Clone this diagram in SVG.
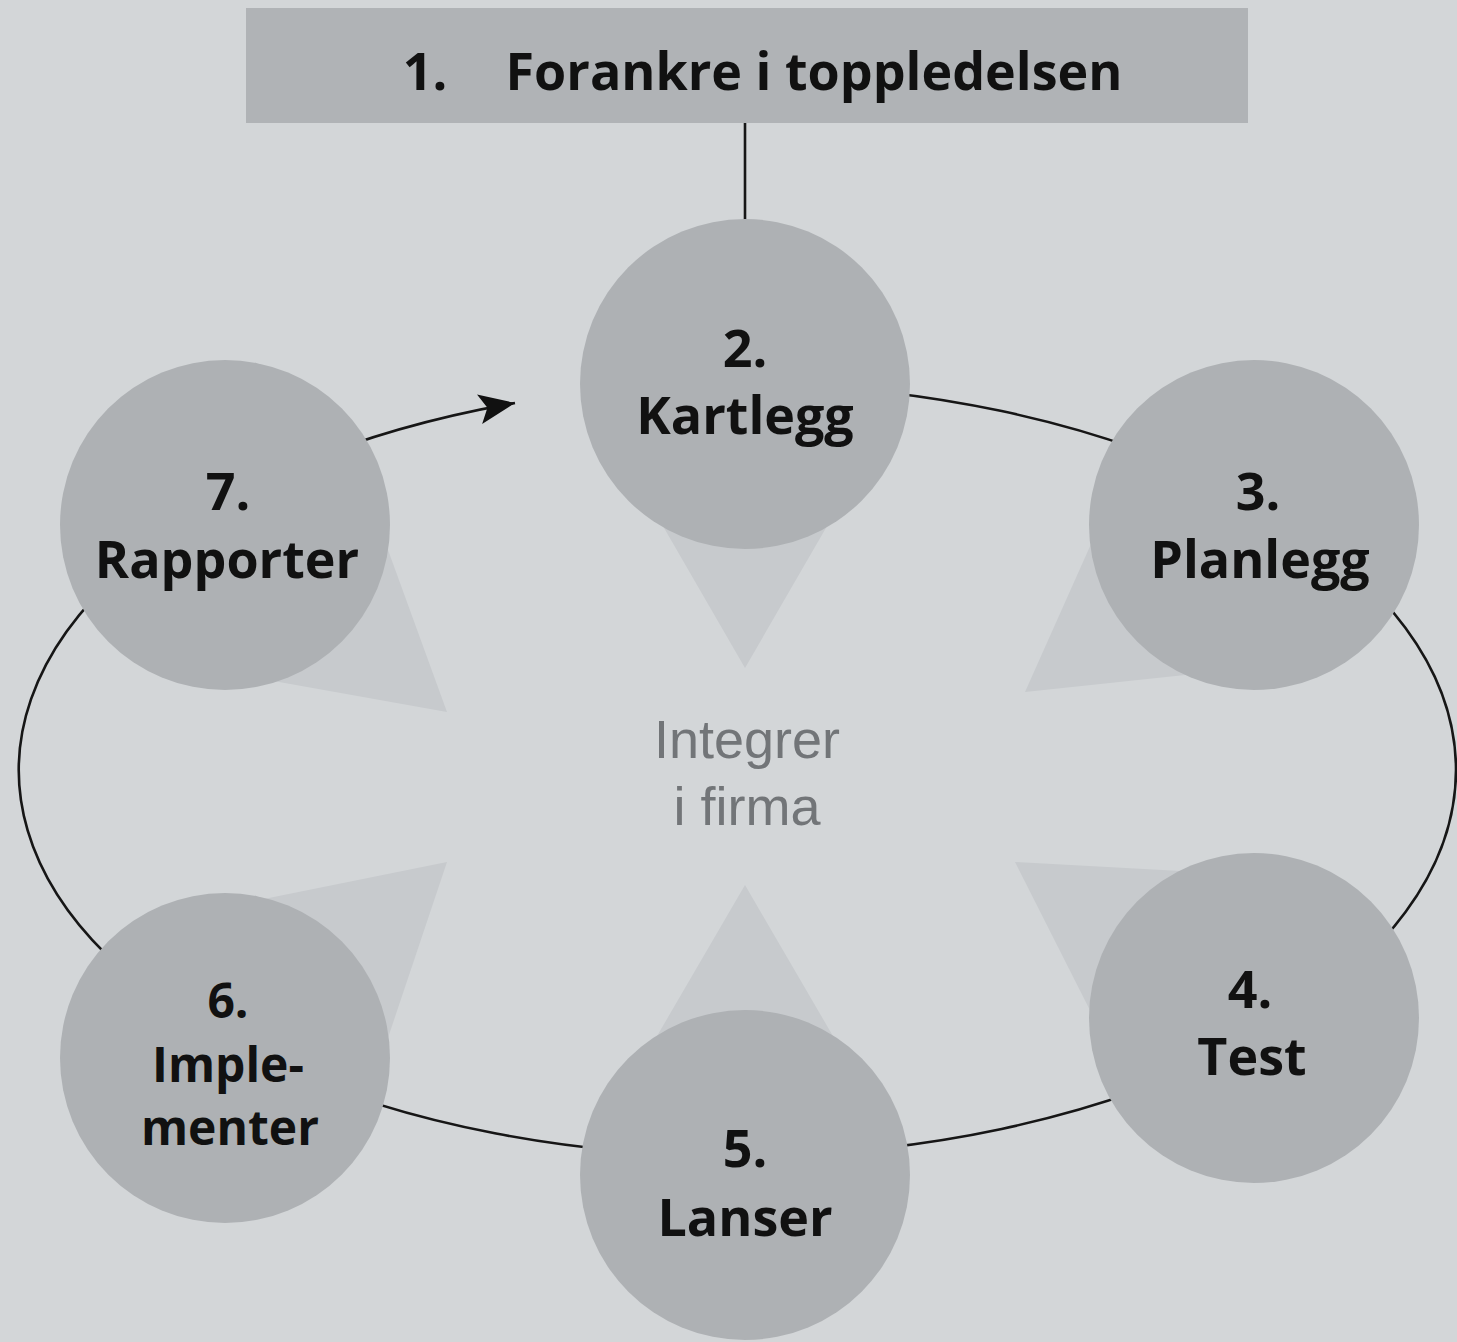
<svg xmlns="http://www.w3.org/2000/svg" width="1457" height="1342" viewBox="0 0 1457 1342">
  <style>
    .bg { fill: #d3d6d8; }
    .step { fill: #aeb1b4; }
    .pointer { fill: #c7cacd; }
    .head { fill: #b0b3b6; }
    .label { font-family: "Open Sans", "DejaVu Sans", sans-serif; font-weight: 700; font-size: 52px; fill: #111111; text-anchor: middle; }
    .small { font-size: 48px; }
    .core { font-family: "Liberation Sans", Arial, sans-serif; font-size: 54px; fill: #727578; text-anchor: middle; }
    .line { fill: none; stroke: #161616; stroke-width: 2.6; }
  </style>
  <defs>
    <marker id="arrowhead" markerUnits="userSpaceOnUse" markerWidth="38" markerHeight="30" refX="36" refY="15" orient="auto">
      <path d="M0,0 L36,15 L0,30 L8,15 Z" fill="#111111"/>
    </marker>
  </defs>

  <rect class="bg" x="0" y="0" width="1457" height="1342"/>

  <!-- connectors: top link and the cycle around the steps -->
  <g id="connectors">
    <line class="line" x1="745" y1="122" x2="745" y2="222"/>
    <path class="line" d="M 737 384 A 719 386 0 0 1 737 1156 A 719 386 0 0 1 515 403" marker-end="url(#arrowhead)"/>
  </g>

  <!-- pointers toward the centre, tucked under each step -->
  <g id="pointers">
    <polygon class="pointer" points="745,668 597,412 893,412"/>
    <polygon class="pointer" points="1025,692 1145,423 1318,661"/>
    <polygon class="pointer" points="1015,862 1311,878 1149,1127"/>
    <polygon class="pointer" points="745,885 593,1146 897,1146"/>
    <polygon class="pointer" points="447,862 349,1154 146,923"/>
    <polygon class="pointer" points="447,712 150,659 344,429"/>
  </g>

  <g id="step1">
    <rect class="head" x="246" y="8" width="1002" height="115"/>
    <text class="label" x="425" y="90">1.</text>
    <text class="label" x="814" y="90" font-size="53">Forankre i toppledelsen</text>
  </g>

  <g id="step2">
    <circle class="step" cx="745" cy="384" r="165"/>
    <text class="label" x="745" y="367">2.</text>
    <text class="label" x="745" y="434">Kartlegg</text>
  </g>

  <g id="step3">
    <circle class="step" cx="1254" cy="525" r="165"/>
    <text class="label" x="1258" y="510">3.</text>
    <text class="label" x="1260" y="578">Planlegg</text>
  </g>

  <g id="step4">
    <circle class="step" cx="1254" cy="1018" r="165"/>
    <text class="label" x="1250" y="1008">4.</text>
    <text class="label" x="1252" y="1075">Test</text>
  </g>

  <g id="step5">
    <circle class="step" cx="745" cy="1175" r="165"/>
    <text class="label" x="745" y="1167">5.</text>
    <text class="label" x="745" y="1236">Lanser</text>
  </g>

  <g id="step6">
    <circle class="step" cx="225" cy="1058" r="165"/>
    <text class="label small" x="228" y="1018">6.</text>
    <text class="label small" x="228" y="1082">Imple-</text>
    <text class="label small" x="230" y="1145">menter</text>
  </g>

  <g id="step7">
    <circle class="step" cx="225" cy="525" r="165"/>
    <text class="label" x="228" y="510">7.</text>
    <text class="label" x="227" y="578">Rapporter</text>
  </g>

  <g id="centre">
    <text class="core" x="747" y="758">Integrer</text>
    <text class="core" x="747" y="825">i firma</text>
  </g>
</svg>
